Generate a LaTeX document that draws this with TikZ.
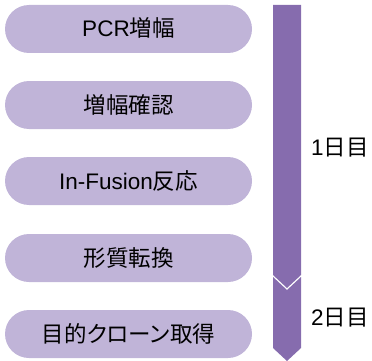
\documentclass[tikz,border=0pt]{standalone}
\usepackage{fontspec}
\setmainfont{Liberation Sans}
\newfontfamily\jp[RawFeature=+palt]{Noto Sans CJK JP}
\definecolor{pillc}{RGB}{192,180,216}
\definecolor{barc}{RGB}{134,108,174}
\begin{document}
\begin{tikzpicture}[x=1pt,y=-1pt,
  pill/.style={fill=pillc,draw=none,rounded corners=24pt,minimum width=247pt,minimum height=48pt,inner sep=0pt},
  pilltxt/.style={font=\fontsize{22.5}{24}\selectfont,inner sep=0pt,anchor=base},
  daylbl/.style={anchor=base west,font=\fontsize{22.5}{24}\selectfont,inner sep=0pt}]
\useasboundingbox (0,0) rectangle (372,361);
\node[pill] (p1) at (128.5,29) {};
\node[pill] (p2) at (128.5,105) {};
\node[pill] (p3) at (128.5,181) {};
\node[pill] (p4) at (128.5,258) {};
\node[pill] (p5) at (128.5,334) {};
\node[pilltxt] (t1) at (128.5,37) {PCR{\jp 増幅}};
\node[pilltxt] (t2) at (128.5,113) {\jp 増幅確認};
\node[pilltxt] (t3) at (128.5,189) {In-Fusion{\jp 反応}};
\node[pilltxt] (t4) at (128.5,266) {\jp 形質転換};
\node[pilltxt] (t5) at (128.5,342) {\jp 目的クローン取得};
\fill[barc] (273,5) -- (301,5) -- (301,275) -- (287,288) -- (273,275) -- cycle;
\fill[barc] (273,277) -- (287,290) -- (301,277) -- (301,348) -- (287,361) -- (273,348) -- cycle;
\node[daylbl] (d1) at (311,155) {1{\jp 日目}};
\node[daylbl] (d2) at (311,325) {2{\jp 日目}};
\end{tikzpicture}
\end{document}
